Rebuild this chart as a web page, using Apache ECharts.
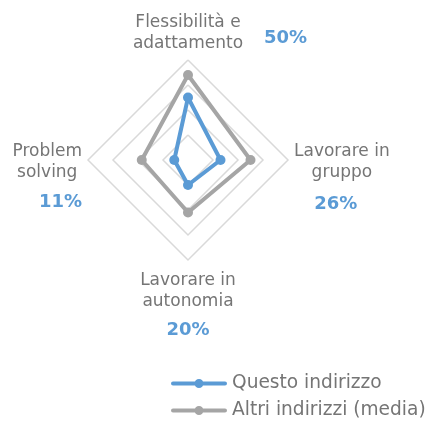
<!DOCTYPE html>
<html>
<head>
<meta charset="utf-8">
<script src="https://cdn.jsdelivr.net/npm/echarts@6/dist/echarts.min.js"></script>
<style>
  html, body { margin: 0; padding: 0; background: #fff; }
  #chart { width: 429px; height: 421px; }
</style>
</head>
<body>
<div id="chart"></div>
<script>
// indicatori in senso antiorario partendo dall'alto (ordine di ECharts)
const indicatorNames = ['Flessibilità e\nadattamento', 'Problem\nsolving', 'Lavorare in\nautonomia', 'Lavorare in\ngruppo']
const questoValues = [0.50, 0.11, 0.20, 0.26]
const altriValues = [0.68, 0.37, 0.42, 0.50]
const pctLabels = ['50%', '11%', '20%', '26%']
const seriesNames = ['Questo indirizzo', 'Altri indirizzi (media)']

const BLUE = '#5B9BD5'
const GREY = '#A5A5A5'
const TEXT = '#757575'

// linea con pallino al centro, come nella legenda originale
const legendIcon = 'path://M2,3L54,3A2,2,0,0,1,54,7L2,7A2,2,0,0,1,2,3ZM28,0.5A4.5,4.5,0,1,1,27.99,0.5Z'

const chart = echarts.init(document.getElementById('chart'))

function nameFormatter(name) {
  const idx = indicatorNames.indexOf(name)
  const lines = name.split('\n')
  const pct = pctLabels[idx]
  if (idx === 0) {
    // in alto: percentuale a destra del nome
    return '{n|' + lines[0] + '}\n{sp|' + pct + '}{n|' + lines[1] + '}{tp|' + pct + '}'
  }
  if (idx === 1) {
    return '{padL| }\n{n|' + lines[0] + '}\n{n|' + lines[1] + '}\n{pl|' + pct + '}'
  }
  if (idx === 2) {
    return '{n|' + lines[0] + '}\n{n|' + lines[1] + '}\n{pb|' + pct + '}'
  }
  return '{padR| }\n{n|' + lines[0] + '}\n{n|' + lines[1] + '}\n{pr|' + pct + '}'
}

const pctStyle = { color: BLUE, fontSize: 18, fontWeight: 'bold', fontFamily: 'DejaVu Sans' }

const option = {
  animation: false,
  backgroundColor: '#fff',
  legend: {
    orient: 'vertical',
    left: 171,
    top: 373,
    padding: 0,
    itemWidth: 56,
    itemHeight: 11,
    itemGap: 6,
    icon: legendIcon,
    data: seriesNames,
    itemStyle: { borderWidth: 0 },
    textStyle: { color: TEXT, fontSize: 18.6, fontFamily: 'DejaVu Sans', lineHeight: 21 }
  },
  radar: {
    center: [188, 160],
    radius: 100,
    startAngle: 90,
    shape: 'polygon',
    splitNumber: 4,
    axisNameGap: 6,
    indicator: indicatorNames.map(n => ({ name: n, min: 0, max: 0.8 })),
    axisLine: { show: false },
    axisTick: { show: false },
    splitArea: { show: false },
    splitLine: { lineStyle: { color: '#D9D9D9', width: 1.5 } },
    axisName: {
      color: TEXT,
      fontSize: 17,
      fontFamily: 'DejaVu Sans',
      padding: [4, 0, 0, 0],
      formatter: nameFormatter,
      rich: {
        n: { color: TEXT, fontSize: 17, fontFamily: 'DejaVu Sans', lineHeight: 21, align: 'center' },
        sp: { ...pctStyle, color: 'transparent', align: 'left', width: 64, lineHeight: 21 },
        tp: { ...pctStyle, align: 'right', width: 64, lineHeight: 21, padding: [0, 0, 11, 0] },
        padL: { fontSize: 10, lineHeight: 38 },
        padR: { fontSize: 10, lineHeight: 42 },
        pl: { ...pctStyle, align: 'right', lineHeight: 37 },
        pr: { ...pctStyle, align: 'center', lineHeight: 41, padding: [0, 12, 0, 0] },
        pb: { ...pctStyle, align: 'center', lineHeight: 37 }
      }
    }
  },
  series: [
    {
      type: 'radar',
      symbol: 'circle',
      symbolSize: 10,
      data: [
        {
          name: seriesNames[1],
          value: altriValues,
          itemStyle: { color: GREY },
          lineStyle: { color: GREY, width: 4 }
        },
        {
          name: seriesNames[0],
          value: questoValues,
          itemStyle: { color: BLUE },
          lineStyle: { color: BLUE, width: 4 }
        }
      ]
    }
  ]
}

chart.setOption(option)
</script>
</body>
</html>
